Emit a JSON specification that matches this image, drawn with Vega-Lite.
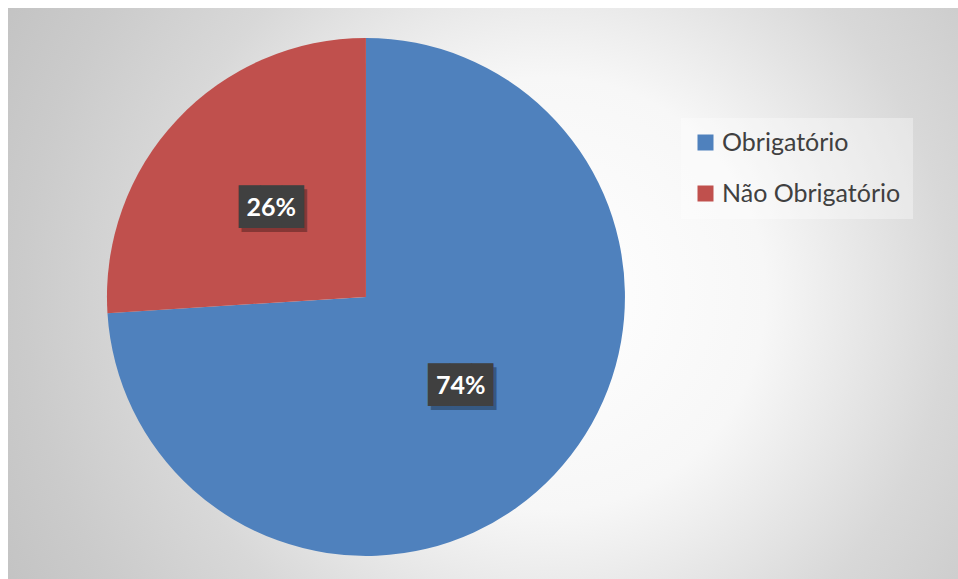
{
  "$schema": "https://vega.github.io/schema/vega-lite/v6.json",
  "width": 958,
  "height": 579,
  "autosize": {"type": "fit", "contains": "padding"},
  "padding": {"left": 8, "top": 8, "right": 0, "bottom": 0},
  "background": "#ffffff",
  "config": {"view": {"stroke": null}},
  "data": {"values": [
    {"categoria": "Obrigatório", "valor": 0.74, "ordem": 1},
    {"categoria": "Não Obrigatório", "valor": 0.26, "ordem": 2}
  ]},
  "layer": [
    {
      "data": {"values": [{"bg": 1}]},
      "mark": {"type": "rect", "color": {"gradient": "radial", "x1": 0.57, "y1": 0.5, "r1": 0, "x2": 0.57, "y2": 0.5, "r2": 0.65,
        "stops": [{"offset": 0, "color": "#ffffff"}, {"offset": 0.35, "color": "#f7f7f7"}, {"offset": 0.65, "color": "#d8d8d8"}, {"offset": 0.85, "color": "#cbcbcb"}, {"offset": 1, "color": "#c3c3c3"}]}},
      "encoding": {}
    },
    {
      "mark": {"type": "arc", "outerRadius": 259, "x": {"expr": "width*0.3768"}, "y": {"expr": "height*0.506"}},
      "encoding": {
        "theta": {"field": "valor", "type": "quantitative", "stack": true},
        "order": {"field": "ordem", "type": "quantitative"},
        "color": {"field": "categoria", "type": "nominal",
          "scale": {"domain": ["Obrigatório", "Não Obrigatório"], "range": ["#4f81bd", "#c0504d"]},
          "legend": {"title": null, "orient": "none", "legendX": 673, "legendY": 110, "padding": 12,
            "fillColor": "rgba(255,255,255,0.35)", "symbolType": "square", "symbolSize": 256, "symbolStrokeWidth": 0,
            "labelFont": "Lato", "labelFontSize": 25, "labelColor": "#404040", "labelOffset": 4, "rowPadding": 25, "labelLimit": 400}}
      }
    },
    {
      "mark": {"type": "text", "radius": 130, "x": {"expr": "width*0.3768"}, "y": {"expr": "height*0.506"}, "font": "DejaVu Sans Mono", "fontSize": 36, "color": "#000000", "opacity": 0.3, "dx": 3, "dy": 4, "baseline": "middle", "align": "center"},
      "encoding": {
        "theta": {"field": "valor", "type": "quantitative", "stack": true},
        "order": {"field": "ordem", "type": "quantitative"},
        "text": {"value": "███"}
      }
    },
    {
      "mark": {"type": "text", "radius": 130, "x": {"expr": "width*0.3768"}, "y": {"expr": "height*0.506"}, "font": "DejaVu Sans Mono", "fontSize": 36, "color": "#404040", "baseline": "middle", "align": "center"},
      "encoding": {
        "theta": {"field": "valor", "type": "quantitative", "stack": true},
        "order": {"field": "ordem", "type": "quantitative"},
        "text": {"value": "███"}
      }
    },
    {
      "mark": {"type": "text", "radius": 130, "x": {"expr": "width*0.3768"}, "y": {"expr": "height*0.506"}, "font": "Lato", "fontSize": 25, "fontWeight": "bold", "color": "#ffffff", "baseline": "middle", "align": "center"},
      "encoding": {
        "theta": {"field": "valor", "type": "quantitative", "stack": true},
        "order": {"field": "ordem", "type": "quantitative"},
        "text": {"field": "valor", "type": "quantitative", "format": ".0%"}
      }
    }
  ]
}
